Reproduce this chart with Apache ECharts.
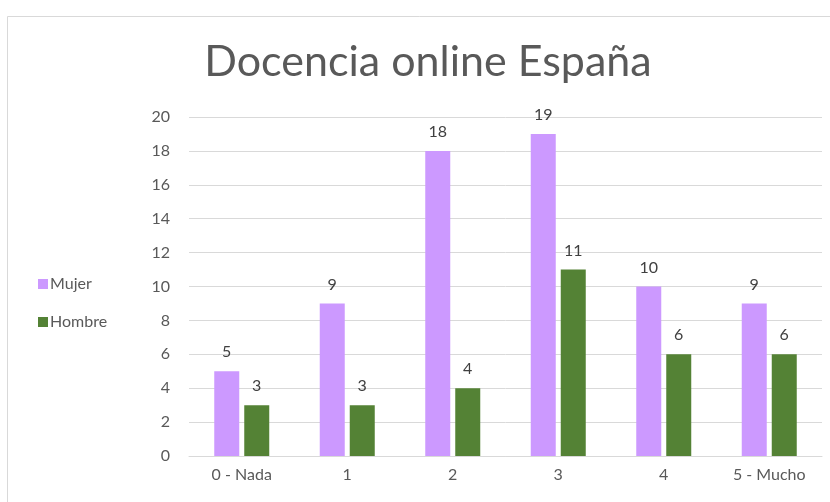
<!DOCTYPE html>
<html><head><meta charset="utf-8">
<script src="https://cdn.jsdelivr.net/npm/echarts@6/dist/echarts.min.js"></script>
<style>html,body{margin:0;padding:0;background:#fff}#c{width:830px;height:502px}</style>
</head><body><div id="c"></div>
<script>
const categories = ['0 - Nada', '1', '2', '3', '4', '5 - Mucho'];
const mujer = [5, 9, 18, 19, 10, 9];
const hombre = [3, 3, 4, 11, 6, 6];
const seriesNames = ['Mujer', 'Hombre'];
const titleText = 'Docencia online España';

const chart = echarts.init(document.getElementById('c'));
const font = 'Lato';
chart.setOption({
  animation: false,
  backgroundColor: '#fff',
  graphic: [{type:'rect', shape:{x:7.5,y:16.5,width:840,height:500}, style:{fill:'none', stroke:'#d9d9d9', lineWidth:1}, silent:true}],
  title: {text: titleText, left: 423, textAlign: 'center', top: 36,
    textStyle: {fontFamily: font, fontSize: 43, fontWeight: 'normal', color: '#595959'}},
  legend: {orient: 'vertical', left: 33, top: 271, itemWidth: 10, itemHeight: 10, itemGap: 22,
    icon: 'rect', textStyle: {fontFamily: font, fontSize: 16, color: '#595959', padding:[0,0,0,-3]}},
  grid: {left: 189, right: 8, top: 117, bottom: 46, containLabel: false},
  xAxis: {type: 'category', data: categories,
    axisLine: {lineStyle: {color: '#d9d9d9'}}, axisTick: {show: false},
    axisLabel: {fontFamily: font, fontSize: 16, color: '#595959', margin: 11}},
  yAxis: {type: 'value', min: 0, max: 20, interval: 2,
    axisLine: {show: false}, axisTick: {show: false},
    splitLine: {lineStyle: {color: '#d9d9d9'}},
    axisLabel: {fontFamily: font, fontSize: 16, color: '#595959', margin: 19}},
  series: [
    {name: seriesNames[0], type: 'bar', data: mujer, barWidth: 25, barGap: '20%',
      itemStyle: {color: '#cc99ff'},
      label: {show: true, position: 'top', distance: 11, fontFamily: font, fontSize: 16, color: '#404040'}},
    {name: seriesNames[1], type: 'bar', data: hombre, barWidth: 25, barGap: '20%',
      itemStyle: {color: '#548235'},
      label: {show: true, position: 'top', distance: 11, fontFamily: font, fontSize: 16, color: '#404040'}}
  ]
});
</script></body></html>
